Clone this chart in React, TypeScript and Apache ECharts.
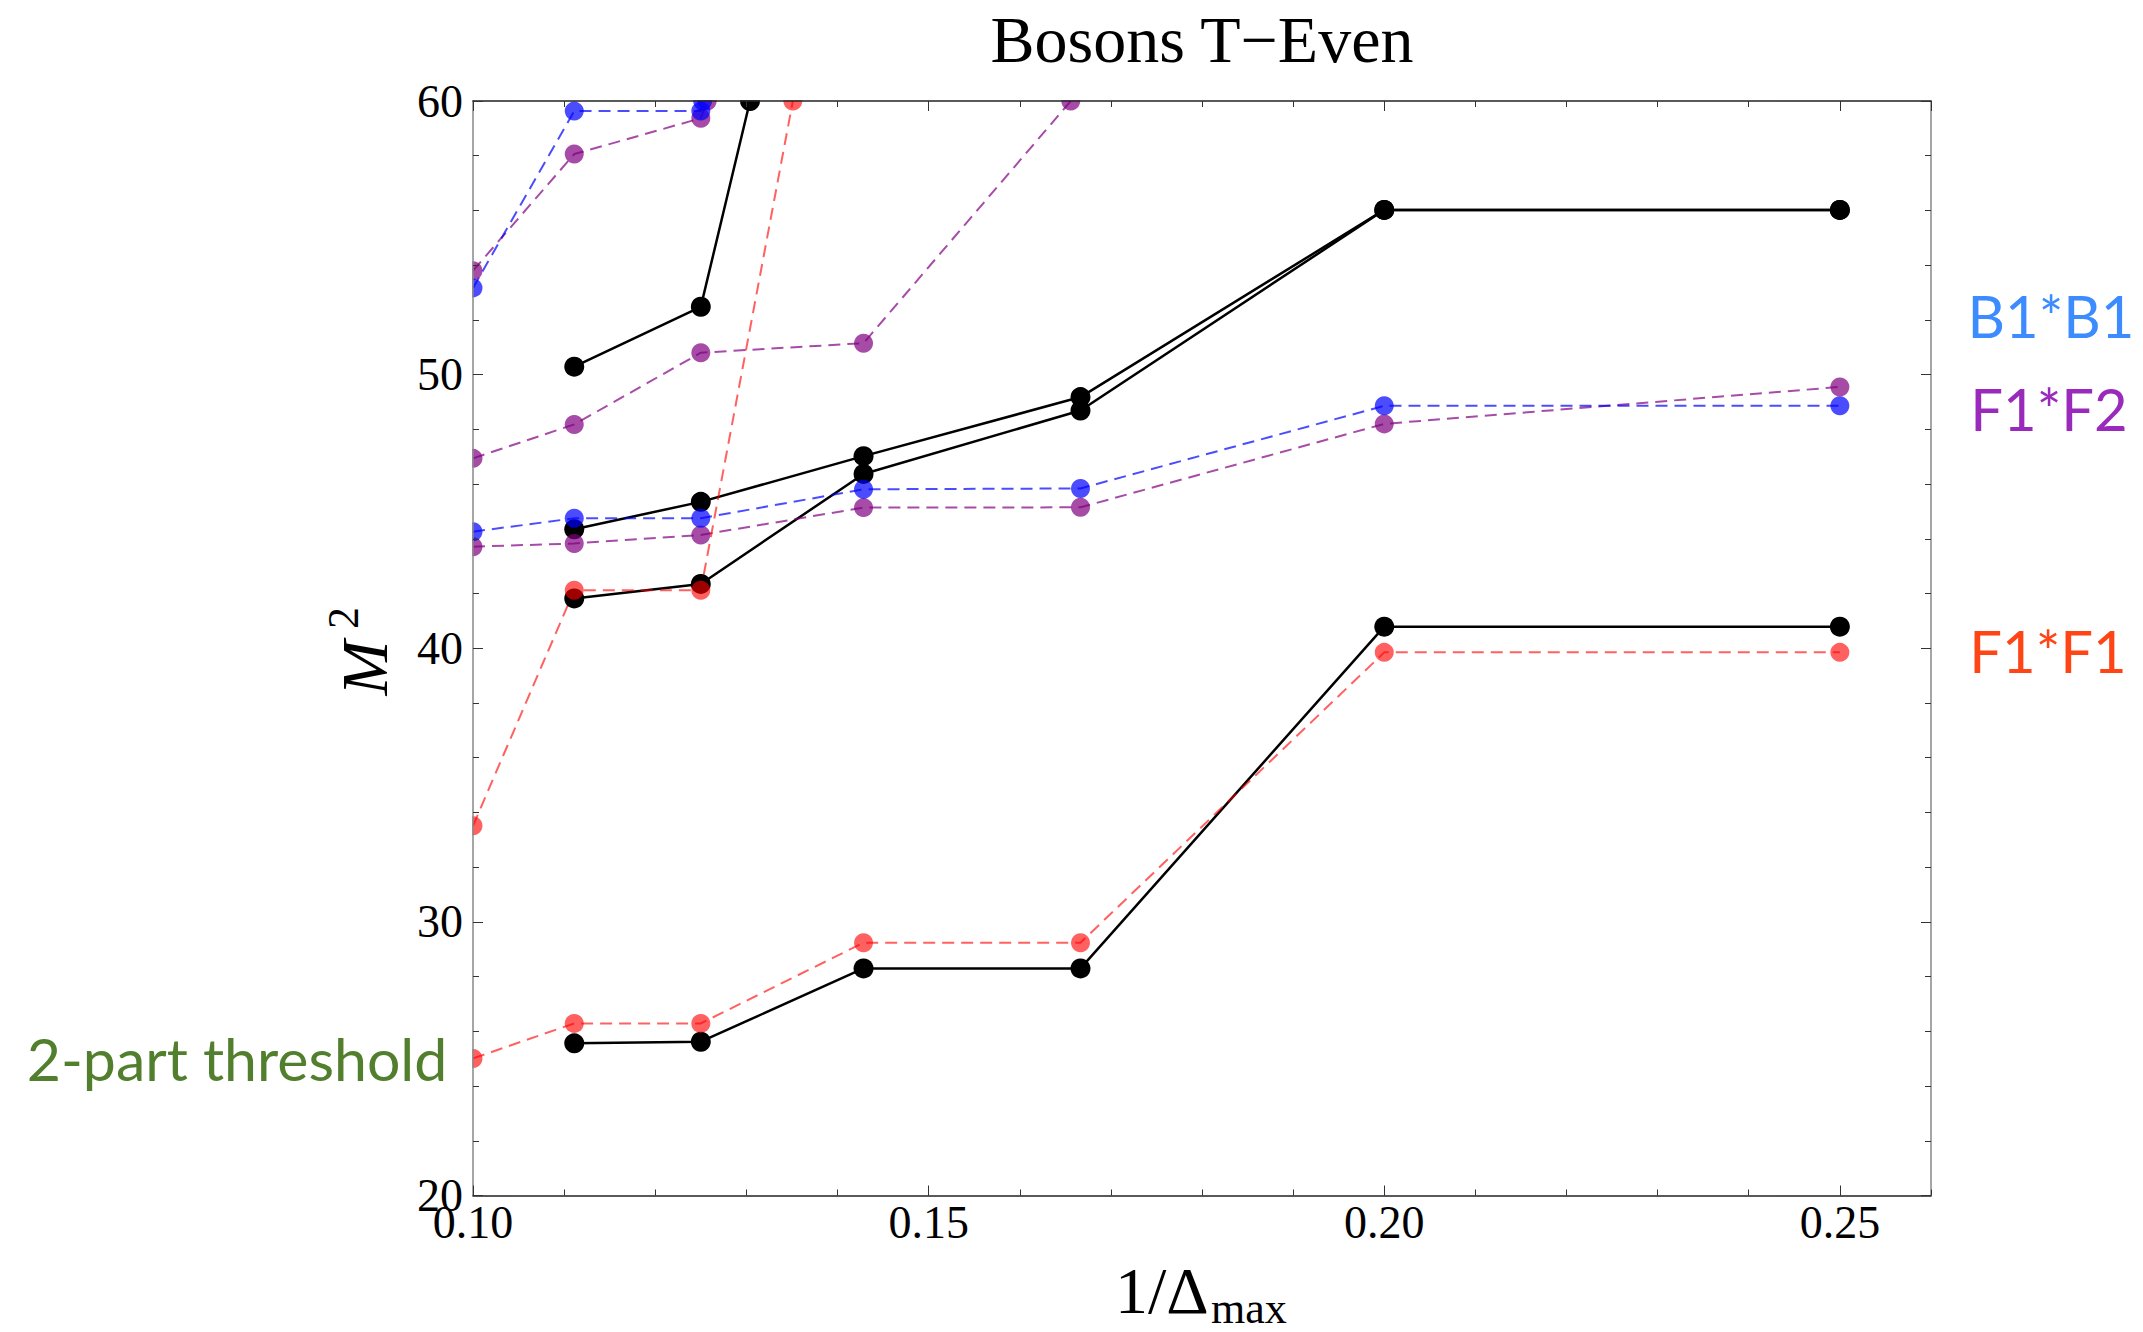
import React, { useEffect, useRef } from "react";
import * as echarts from "echarts";

// x positions: 1/Δmax for Δmax = 10, 9, 8, 7, 6, 5, 4
const X_VALUES = [0.1, 1 / 9, 1 / 8, 1 / 7, 1 / 6, 1 / 5, 1 / 4];
const X_TICKS_MAJOR = 0.05;
const X_TICKS_MINOR = 0.01;

// full spectrum (black, solid)
const blackA = [null, 25.56, 25.62, 28.3, 28.3, 40.79, 40.79];
const blackB = [null, 41.82, 42.35, 46.37, 48.69, 56.02, 56.02];
const blackC = [null, 44.35, 45.35, 47.02, 49.18, 56.02, 56.02];
const blackD = [null, 50.29, 52.48];
const blackDExit = [0.1304, 60];

// F1*F1 (red, dashed)
const redA = [25.01, 26.29, 26.29, 29.24, 29.24, 39.85, 39.85];
const redB = [33.51, 42.12, 42.12];
const redBExit = [0.1351, 60];

// B1*B1 (blue, dashed)
const blueA = [44.26, 44.75, 44.75, 45.81, 45.84, 48.86, 48.86];
const blueB = [53.17, 59.63, 59.63];
const blueBExit = [0.1252, 60];

// F1*F2 (purple, dashed)
const purpleA = [43.71, 43.83, 44.14, 45.14, 45.15, 48.2, 49.55];
const purpleB = [46.94, 48.18, 50.8, 51.15];
const purpleBExit = [0.1656, 60];
const purpleC = [53.8, 58.06, 59.37];
const purpleCExit = [0.1257, 60];

const TITLE = "Bosons T\u2212Even";
const LABEL_B1B1 = "B1*B1";
const LABEL_F1F2 = "F1*F2";
const LABEL_F1F1 = "F1*F1";
const LABEL_THRESHOLD = "2-part threshold";

const BLACK = "#000000";
const RED = "rgba(255,0,0,0.62)";
const BLUE = "rgba(0,0,255,0.7)";
const PURPLE = "rgba(128,0,128,0.7)";

function pairs(ys: (number | null)[], exit?: number[]) {
  const out: number[][] = [];
  ys.forEach((y, i) => {
    if (y !== null && y !== undefined) out.push([X_VALUES[i], y]);
  });
  if (exit) out.push(exit);
  return out;
}

function mk(data: number[][], color: string, solid: boolean) {
  return {
    type: "line",
    data,
    symbol: "circle",
    symbolSize: solid ? 20 : 19,
    showSymbol: true,
    clip: true,
    silent: true,
    emphasis: { disabled: true },
    lineStyle: { color, width: solid ? 2.5 : 2, type: solid ? "solid" : [12, 7] },
    itemStyle: { color, borderWidth: 0 },
    z: 2,
  };
}

const SERIF = "Liberation Serif";
const SANS = "Lato";

export default function App() {
  const ref = useRef<HTMLDivElement>(null);
  useEffect(() => {
    const chart = echarts.init(ref.current!, null, { renderer: "svg" });
    const xBase = {
      type: "value",
      min: 0.1,
      max: 0.26,
      gridIndex: 0,
      z: 5,
      splitLine: { show: false },
    };
    const yBase = {
      type: "value",
      min: 20,
      max: 60,
      interval: 10,
      gridIndex: 0,
      z: 5,
      splitLine: { show: false },
      minorSplitLine: { show: false },
    };
    const option: any = {
      animation: false,
      backgroundColor: "#ffffff",
      grid: { left: 473, top: 101, width: 1458, height: 1094.5, containLabel: false },
      xAxis: [
        {
          ...xBase,
          position: "bottom",
          interval: X_TICKS_MAJOR,
          axisLine: { show: true, lineStyle: { color: "#222", width: 1.5 } },
          axisTick: { show: true, inside: true, length: 10, lineStyle: { color: "#333", width: 1 } },
          axisLabel: {
            show: true,
            showMaxLabel: false,
            margin: 4,
            formatter: (v: number) => v.toFixed(2),
            fontFamily: SERIF,
            fontSize: 46,
            color: "#000",
          },
        },
        {
          ...xBase,
          position: "bottom",
          interval: X_TICKS_MINOR,
          axisLine: { show: false },
          axisTick: { show: true, inside: true, length: 6, lineStyle: { color: "#333", width: 1 } },
          axisLabel: { show: false },
        },
        {
          ...xBase,
          position: "top",
          interval: X_TICKS_MAJOR,
          axisLine: { show: true, lineStyle: { color: "#222", width: 1.5 } },
          axisTick: { show: true, inside: true, length: 10, lineStyle: { color: "#333", width: 1 } },
          axisLabel: { show: false },
        },
        {
          ...xBase,
          position: "top",
          interval: X_TICKS_MINOR,
          axisLine: { show: false },
          axisTick: { show: true, inside: true, length: 6, lineStyle: { color: "#333", width: 1 } },
          axisLabel: { show: false },
        },
      ],
      yAxis: [
        {
          ...yBase,
          position: "left",
          axisLine: { show: true, lineStyle: { color: "#888", width: 1.5 } },
          axisTick: { show: true, inside: true, length: 10, lineStyle: { color: "#333", width: 1 } },
          minorTick: { show: true, splitNumber: 5, length: 6, lineStyle: { color: "#333", width: 1 } },
          axisLabel: { show: true, margin: 10, fontFamily: SERIF, fontSize: 46, color: "#000" },
        },
        {
          ...yBase,
          position: "right",
          axisLine: { show: true, lineStyle: { color: "#888", width: 1.5 } },
          axisTick: { show: true, inside: true, length: 10, lineStyle: { color: "#333", width: 1 } },
          minorTick: { show: true, splitNumber: 5, length: 6, lineStyle: { color: "#333", width: 1 } },
          axisLabel: { show: false },
        },
      ],
      series: [
        mk(pairs(blackA), BLACK, true),
        mk(pairs(blackB), BLACK, true),
        mk(pairs(blackC), BLACK, true),
        mk(pairs(blackD, blackDExit), BLACK, true),
        mk(pairs(purpleA), PURPLE, false),
        mk(pairs(purpleB, purpleBExit), PURPLE, false),
        mk(pairs(purpleC, purpleCExit), PURPLE, false),
        mk(pairs(redA), RED, false),
        mk(pairs(redB, redBExit), RED, false),
        mk(pairs(blueA), BLUE, false),
        mk(pairs(blueB, blueBExit), BLUE, false),
      ],
      graphic: [
        // masks that clip markers at the frame edge
        { type: "rect", z: 4, silent: true, shape: { x: 462, y: 82, width: 1478, height: 18.3 }, style: { fill: "#fff" } },
        { type: "rect", z: 4, silent: true, shape: { x: 462, y: 100, width: 10.3, height: 1096 }, style: { fill: "#fff" } },
        {
          type: "text", z: 10, x: 1202, y: 39,
          style: { text: TITLE, fontFamily: SERIF, fontSize: 66, fill: "#000", align: "center", verticalAlign: "middle" },
        },
        {
          type: "text", z: 10, x: 1115, y: 1290,
          style: { text: "1/\u0394", fontFamily: SERIF, fontSize: 66, fill: "#000", align: "left", verticalAlign: "middle" },
        },
        {
          type: "text", z: 10, x: 1211, y: 1308,
          style: { text: "max", fontFamily: SERIF, fontSize: 44, fill: "#000", align: "left", verticalAlign: "middle" },
        },
        {
          type: "text", z: 10, x: 364, y: 668, rotation: Math.PI / 2,
          style: { text: "M", fontFamily: SERIF, fontStyle: "italic", fontSize: 66, fill: "#000", align: "center", verticalAlign: "middle" },
        },
        {
          type: "text", z: 10, x: 343, y: 618, rotation: Math.PI / 2,
          style: { text: "2", fontFamily: SERIF, fontSize: 44, fill: "#000", align: "center", verticalAlign: "middle" },
        },
        {
          type: "text", z: 10, x: 2051, y: 315,
          style: { text: LABEL_B1B1, fontFamily: SANS, fontSize: 58, fill: "#3d8cff", align: "center", verticalAlign: "middle" },
        },
        {
          type: "text", z: 10, x: 2049, y: 408,
          style: { text: LABEL_F1F2, fontFamily: SANS, fontSize: 58, fill: "#9a2abb", align: "center", verticalAlign: "middle" },
        },
        {
          type: "text", z: 10, x: 2048, y: 650,
          style: { text: LABEL_F1F1, fontFamily: SANS, fontSize: 58, fill: "#ff4515", align: "center", verticalAlign: "middle" },
        },
        {
          type: "text", z: 10, x: 237, y: 1058,
          style: { text: LABEL_THRESHOLD, fontFamily: SANS, fontSize: 59, fill: "#527f2d", align: "center", verticalAlign: "middle" },
        },
      ],
    };
    chart.setOption(option);
    return () => chart.dispose();
  }, []);
  return (
    <div
      ref={ref}
      style={{ position: "fixed", left: 0, top: 0, width: 2143, height: 1332, background: "#fff" }}
    />
  );
}
